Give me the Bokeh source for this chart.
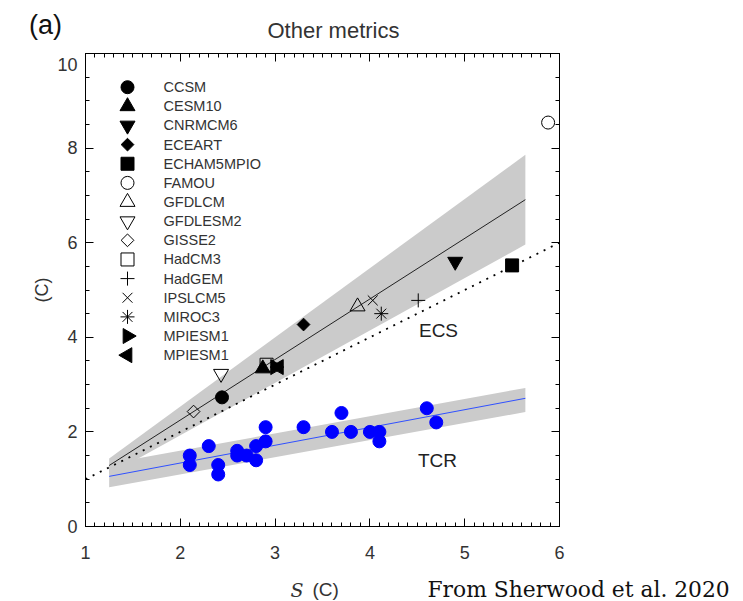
from bokeh.plotting import figure
from bokeh.models import ColumnDataSource, Range1d, LinearAxis, SingleIntervalTicker
from bokeh.layouts import column
from bokeh.embed import file_html
from bokeh.resources import INLINE
from bokeh.core.properties import value

# ---------------- data ----------------
models = ["CCSM", "CESM10", "CNRMCM6", "ECEART", "ECHAM5MPIO", "FAMOU", "GFDLCM",
          "GFDLESM2", "GISSE2", "HadCM3", "HadGEM", "IPSLCM5", "MIROC3", "MPIESM1", "MPIESM1"]
ecs_s = [2.44, 2.87, 4.90, 3.30, 5.50, 5.88, 3.87, 2.43, 2.14, 2.91, 4.51, 4.03, 4.12, 3.00, 3.04]
ecs_val = [2.73, 3.34, 5.60, 4.27, 5.52, 8.54, 4.65, 3.23, 2.43, 3.42, 4.78, 4.78, 4.50, 3.37, 3.37]
model_marker = ["circle", "triangle", "inverted_triangle", "square", "square", "circle", "triangle",
                "inverted_triangle", "square", "square", "cross", "x", "asterisk", "triangle", "triangle"]
model_filled = [1, 1, 1, 1, 1, 0, 0, 0, 0, 0, 0, 0, 0, 1, 1]
model_angle = [0, 0, 0, 45, 0, 0, 0, 0, 45, 0, 0, 0, 0, -90, 90]
model_size = [13, 15, 15, 9, 13, 13, 15, 15, 9, 13, 14, 14, 14, 15, 15]

tcr_s = [2.1, 2.1, 2.3, 2.4, 2.4, 2.6, 2.6, 2.7, 2.8, 2.8, 2.9, 2.9, 3.3, 3.6, 3.7, 3.8, 4.0, 4.1, 4.1, 4.6, 4.7]
tcr_val = [1.5, 1.3, 1.7, 1.3, 1.1, 1.6, 1.5, 1.5, 1.7, 1.4, 2.1, 1.8, 2.1, 2.0, 2.4, 2.0, 2.0, 2.0, 1.8, 2.5, 2.2]

fit_s = [1.25, 5.64]
ecs_fit = [1.29, 6.91]
ecs_lo = [1.10, 5.96]
ecs_hi = [1.44, 7.86]
tcr_fit = [1.06, 2.71]
tcr_lo = [0.83, 2.42]
tcr_hi = [1.33, 2.93]
one_s = [1.0, 6.0]
one_val = [1.0, 6.0]

x_ticks = [1, 2, 3, 4, 5, 6]
y_ticks = [0, 2, 4, 6, 8, 10]

# ------------- layout helpers (page pixel -> data, for text placement only) -------------
def dx(px):
    return 1 + (px - 85) / 94.8

def dy(py):
    return (526 - py) / 47.3

SANS = "Liberation Sans"
TXT = "#333333"
W = 743
TOP_H = 44
BOT_Y0 = 566


def strip(y0, y1):
    f = figure(width=W, height=y1 - y0, x_range=Range1d(0, W), y_range=Range1d(y1, y0),
               output_backend="svg", toolbar_location=None, min_border=0,
               x_axis_location=None, y_axis_location=None, frame_align=False)
    f.title.visible = False
    f.grid.visible = False
    f.outline_line_color = None
    f.background_fill_color = "white"
    f.border_fill_color = "white"
    return f


# ---------------- top strip: panel letter + title ----------------
top = strip(0, TOP_H)
top.text([45], [24], text=["(a)"], text_font=value(SANS), text_font_size="27px",
         text_color="#111111", text_align="center", text_baseline="middle")
top.text([333], [30], text=["Other metrics"], text_font=value(SANS), text_font_size="22px",
         text_color=TXT, text_align="center", text_baseline="middle")

# ---------------- main plot ----------------
p = figure(width=W, height=BOT_Y0 - TOP_H, x_range=Range1d(1, 6), y_range=Range1d(0, 10),
           output_backend="svg", toolbar_location=None, frame_align=False,
           min_border_left=85, min_border_right=W - 559, min_border_top=53 - TOP_H,
           min_border_bottom=BOT_Y0 - 526)
p.title.visible = False
p.grid.visible = False
p.outline_line_color = "black"
p.background_fill_color = "white"
p.border_fill_color = "white"

# bands
p.patch(fit_s + fit_s[::-1], ecs_lo + ecs_hi[::-1], fill_color="#cbcbcb", line_color=None)
p.patch(fit_s + fit_s[::-1], tcr_lo + tcr_hi[::-1], fill_color="#cbcbcb", line_color=None)
# 1:1 dotted line
p.line(one_s, one_val, line_color="black", line_width=1.8, line_dash="2 6")
# fits
p.line(fit_s, ecs_fit, line_color="#222222", line_width=1)
p.line(fit_s, tcr_fit, line_color="#3050ff", line_width=1)

# ECS model markers
src = ColumnDataSource(dict(x=ecs_s, y=ecs_val, marker=model_marker, size=model_size,
                            angle=model_angle, fa=model_filled))
p.scatter("x", "y", source=src, marker="marker", size="size", angle="angle", angle_units="deg",
          fill_color="black", fill_alpha="fa", line_color="black", line_width=1)

# TCR points
p.scatter(tcr_s, tcr_val, marker="circle", size=13, fill_color="#0000ff", line_color="#0000ff")

# legend (manual)
rows = list(range(len(models)))
leg_y = [dy(86.7 + 19.14 * i) for i in rows]
lsrc = ColumnDataSource(dict(x=[dx(127)] * len(models), tx=[dx(163)] * len(models), y=leg_y,
                             marker=model_marker, size=model_size, angle=model_angle,
                             fa=model_filled, name=models))
p.scatter("x", "y", source=lsrc, marker="marker", size="size", angle="angle", angle_units="deg",
          fill_color="black", fill_alpha="fa", line_color="black", line_width=1)
p.text("tx", "y", text="name", source=lsrc, text_font=value(SANS), text_font_size="14.5px",
       text_baseline="middle", text_align="left", text_color=TXT)

p.text([dx(438)], [dy(330)], text=["ECS"], text_font=value(SANS), text_font_size="19px",
       text_color="#222222", text_align="center", text_baseline="middle")
p.text([dx(437)], [dy(460)], text=["TCR"], text_font=value(SANS), text_font_size="19px",
       text_color="#222222", text_align="center", text_baseline="middle")

# axes
xt = SingleIntervalTicker(interval=1, num_minor_ticks=10)
yt = SingleIntervalTicker(interval=2, num_minor_ticks=4)
p.add_layout(LinearAxis(ticker=xt), "above")
p.add_layout(LinearAxis(ticker=yt), "right")
p.xaxis.ticker = xt
p.yaxis.ticker = yt
for ax in p.xaxis + p.yaxis:
    ax.axis_line_color = "black"
    ax.major_tick_in = 8
    ax.major_tick_out = 0
    ax.minor_tick_in = 4
    ax.minor_tick_out = 0
    ax.major_tick_line_color = "black"
    ax.minor_tick_line_color = "black"
    ax.major_label_text_font = SANS
    ax.major_label_text_font_size = "18px"
    ax.major_label_text_color = TXT
p.above[0].major_label_overrides = {t: "" for t in x_ticks}
p.right[0].major_label_overrides = {t: "" for t in y_ticks}
for ax in (p.above[0], p.right[0]):
    ax.major_label_text_font_size = "2px"
    ax.major_label_standoff = 0
p.below[0].major_label_standoff = 19
p.left[0].major_label_standoff = 8
p.left[0].major_label_overrides = {10: "\n10"}
p.left[0].major_label_text_line_height = 0.5
p.left[0].axis_label = "(C)"
p.left[0].axis_label_text_font = SANS
p.left[0].axis_label_text_font_style = "normal"
p.left[0].axis_label_text_font_size = "18px"
p.left[0].axis_label_text_color = TXT
p.left[0].axis_label_standoff = 2

# ---------------- bottom strip: x label + source ----------------
BASE = 589
bot = strip(BOT_Y0, 601)
bot.text([303], [BASE], text=["S"], text_font=value("DejaVu Serif"), text_font_style="italic",
         text_font_size="19px", text_color=TXT, text_align="right", text_baseline="alphabetic")
bot.text([312], [BASE], text=["(C)"], text_font=value(SANS), text_font_size="19px",
         text_color=TXT, text_align="left", text_baseline="alphabetic")
bot.text([427], [BASE], text=["From Sherwood et al. 2020"], text_font=value("DejaVu Serif"),
         text_font_size="21.8px", text_color="#111111", text_align="left", text_baseline="alphabetic")

layout = column(top, p, bot, spacing=0)
open("out.html", "w").write(file_html(layout, INLINE))
